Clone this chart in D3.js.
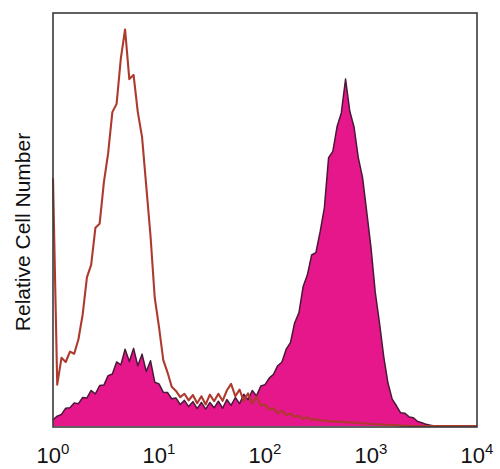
<!DOCTYPE html>
<html>
<head>
<meta charset="utf-8">
<script src="https://cdn.jsdelivr.net/npm/d3@7"></script>
<style>
  html, body { margin: 0; padding: 0; background: #ffffff; }
  svg { display: block; }
</style>
</head>
<body>
<svg id="chart" width="500" height="469"></svg>
<script>
// Bin positions (log10 of fluorescence intensity)
const binExponents = [
  0.00,0.04,0.08,0.12,0.16,0.20,0.24,0.28,0.32,0.36,
  0.40,0.44,0.48,0.52,0.56,0.60,0.64,0.68,0.72,0.76,
  0.80,0.84,0.88,0.92,0.96,1.00,1.04,1.08,1.12,1.16,
  1.20,1.24,1.28,1.32,1.36,1.40,1.44,1.48,1.52,1.56,
  1.60,1.64,1.68,1.72,1.76,1.80,1.84,1.88,1.92,1.96,
  2.00,2.04,2.08,2.12,2.16,2.20,2.24,2.28,2.32,2.36,
  2.40,2.44,2.48,2.52,2.56,2.60,2.64,2.68,2.72,2.76,
  2.80,2.84,2.88,2.92,2.96,3.00,3.04,3.08,3.12,3.16,
  3.20,3.24,3.28,3.32,3.36,3.40,3.44,3.48,3.52,3.56,
  3.60,3.64,3.68,3.72,3.76,3.80,3.84,3.88,3.92,3.96,
  4.00
];

// Isotype control (open red histogram)
const controlCounts = [
  60,10,16.5,15.5,18,17.5,21,27,36,39,
  48,49,59,66,76,78,89,96,84,85,
  76,70,58,46,31,24,16,13,9.5,8.5,
  7,7.8,6.2,7.5,5.5,7.2,5.2,7.6,6,7.8,
  6.1,8.6,10.2,7.2,8.8,6,7.9,5.4,7.1,5,
  5.2,4,4.3,3.1,3.7,2.6,3,2.2,2.5,1.7,
  2.1,1.5,1.7,1.3,1.4,1.1,1.2,1.0,1.1,0.9,
  0.9,0.8,0.8,0.6,0.6,0.5,0.5,0.4,0.3,0.3,
  0.2,0.2,0.1,0.1,0,0,0,0,0,0,
  0,0,0,0,0,0,0,0,0,0,
  0
];

// Stained sample (filled magenta histogram)
const stainedCounts = [
  1.5,2.4,2.8,4.3,4.4,5.6,5.4,6.9,6.8,8.6,
  7.8,9.8,9.9,12.2,12.6,15.5,14.8,18.6,15.6,18.8,
  14.6,17.4,13.2,15.8,10.6,10.2,8.2,8.1,6.6,6.8,
  5.2,6.2,4.7,5.9,4.2,5.7,4.1,5.7,4.4,6,
  4.3,6.4,5,6.9,5.4,7.7,6.4,8.6,7.3,9.7,
  10,11.6,12.5,14.6,15.5,18.6,20.2,25,27.4,33.8,
  36.6,41.4,42,47,52.8,65,66.5,72.5,75.8,84,
  76.2,72.4,65,60.2,51.8,43.2,32.4,25,16.8,10.4,
  6.5,4.9,3.2,3.1,2.2,2,1.1,0.8,0.4,0.2,
  0,0,0,0,0,0,0,0,0,0,
  0
];

const tickValues = [1, 10, 100, 1000, 10000];
const tickExponents = ["0", "1", "2", "3", "4"];
const yAxisTitle = "Relative Cell Number";

const svg = d3.select("#chart");
const mLeft = 53, mRight = 477, mTop = 13, mBottom = 426;

const x = d3.scaleLog().domain([1, 10000]).range([mLeft, mRight]);
const y = d3.scaleLinear().domain([0, 100]).range([mBottom, mTop]);

const stained = binExponents.map((e, i) => ({ v: Math.pow(10, e), c: stainedCounts[i] }));
const control = binExponents.map((e, i) => ({ v: Math.pow(10, e), c: controlCounts[i] }));

const area = d3.area()
  .x(d => x(d.v))
  .y0(y(0))
  .y1(d => y(d.c));
const line = d3.line()
  .x(d => x(d.v))
  .y(d => y(d.c));

// filled stained histogram
svg.append("path")
  .datum(stained)
  .attr("d", area)
  .attr("fill", "#e5178a");
svg.append("path")
  .datum(stained)
  .attr("d", line)
  .attr("fill", "none")
  .attr("stroke", "#4a1838")
  .attr("stroke-width", 1.5)
  .attr("stroke-linejoin", "round");

// control histogram outline
svg.append("path")
  .datum(control)
  .attr("d", line)
  .attr("fill", "none")
  .attr("stroke", "#ae3a2e")
  .attr("stroke-width", 2.1)
  .attr("stroke-linejoin", "round");

// frame
svg.append("rect")
  .attr("x", mLeft).attr("y", mTop)
  .attr("width", mRight - mLeft).attr("height", mBottom + 1 - mTop)
  .attr("fill", "none")
  .attr("stroke", "#3a3a3a")
  .attr("stroke-width", 1.6);

// x tick labels
const labels = svg.append("g")
  .attr("font-family", "Liberation Sans, Arial, sans-serif")
  .attr("fill", "#111");
tickValues.forEach((t, i) => {
  const txt = labels.append("text")
    .attr("x", x(t))
    .attr("y", 463)
    .attr("text-anchor", "middle")
    .attr("font-size", 22);
  txt.append("tspan").text("10");
  txt.append("tspan")
    .attr("font-size", 15)
    .attr("dy", -9)
    .text(tickExponents[i]);
});

// y axis title
svg.append("text")
  .attr("transform", "translate(30," + 232 + ") rotate(-90)")
  .attr("text-anchor", "middle")
  .attr("font-family", "Liberation Sans, Arial, sans-serif")
  .attr("font-size", 21)
  .attr("fill", "#111")
  .text(yAxisTitle);
</script>
</body>
</html>
